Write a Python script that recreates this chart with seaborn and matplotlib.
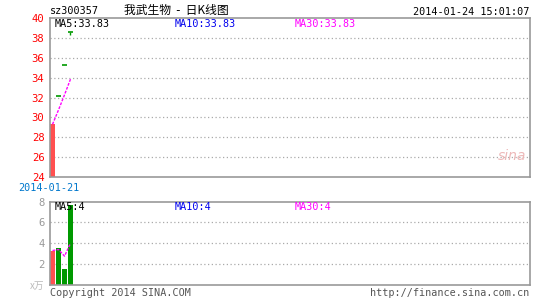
import matplotlib
matplotlib.use("Agg")
import matplotlib.pyplot as plt
import seaborn as sns
import numpy as np
import pandas as pd

# ---- data ----
dates = ["2014-01-21", "2014-01-22", "2014-01-23", "2014-01-24"]
opens = [22.0, 32.2, 35.3, 38.6]
closes = [29.3, 32.2, 35.3, 38.6]
highs = [29.3, 32.2, 35.3, 38.6]
lows = [22.0, 32.2, 35.3, 38.3]
volumes = [3.3, 3.5, 1.5, 7.7]
price_ticks = [24, 26, 28, 30, 32, 34, 36, 38, 40]
vol_ticks = [2, 4, 6, 8]

sns.set_style("white")
plt.rcParams['font.family'] = ['DejaVu Sans Mono', 'Noto Sans CJK SC']

RED = "#FF5050"
GREEN = "#009900"
GRAY = "#999999"
BLUE = "#0000EE"
MAG = "#FF00FF"
FS = 7.3

fig = plt.figure(figsize=(5.45, 3.0), dpi=100)
L = 50 / 545
W = 479.5 / 545
ax = fig.add_axes([L, 1 - 177 / 300, W, (177 - 18) / 300])
axv = fig.add_axes([L, 1 - 285 / 300, W, (285 - 201.5) / 300])

n = len(dates)
x = np.arange(n)
hw = 0.42
df = pd.DataFrame({"x": x, "close": closes, "vol": volumes})
df["ma5"] = df["close"].rolling(5, min_periods=1).mean()
df["vma5"] = df["vol"].rolling(5, min_periods=1).mean()

for a in (ax, axv):
    a.set_xlim(-0.42, 79.58)
    for s in a.spines.values():
        s.set_color(GRAY)
        s.set_linewidth(1.2)
    a.set_xticks([])
    a.tick_params(axis="y", length=0, pad=4, labelsize=FS + 0.3)

# main panel
ax.set_ylim(24, 40)
ax.set_yticks(price_ticks)
ax.set_yticklabels([str(t) for t in price_ticks], color="#FF0000")
for t in price_ticks[1:-1]:
    ax.axhline(t, color="#AAAAAA", lw=0.9, ls=(0, (1, 2)), zorder=0)

for i in range(n):
    o, c, h, l = opens[i], closes[i], highs[i], lows[i]
    if c > o:
        ax.bar(x[i], c - o, bottom=o, width=2 * hw, color=RED, lw=0, zorder=2)
        ax.vlines(x[i], l, h, color=RED, lw=1, zorder=2)
    else:
        ax.vlines(x[i], l, h, color=GREEN, lw=1, zorder=2)
        ax.hlines(c, x[i] - hw, x[i] + hw, color=GREEN, lw=1.2, zorder=2)

sns.lineplot(data=df, x="x", y="ma5", ax=ax, color=MAG, lw=1, ls=(0, (2, 1)), zorder=3)
ax.set_xlabel("")
ax.set_ylabel("")

ax.text(0.01, 0.995, "MA5:33.83", transform=ax.transAxes, ha="left", va="top", fontsize=FS, color="black")
ax.text(0.26, 0.995, "MA10:33.83", transform=ax.transAxes, ha="left", va="top", fontsize=FS, color=BLUE)
ax.text(0.51, 0.995, "MA30:33.83", transform=ax.transAxes, ha="left", va="top", fontsize=FS, color=MAG)
ax.text(0.993, 0.13, "sina", transform=ax.transAxes, ha="right", va="center", fontsize=10,
        color="#EDB8B8", style="italic", family="DejaVu Sans")

# volume panel
axv.set_ylim(0, 8)
axv.set_yticks(vol_ticks)
axv.set_yticklabels([str(t) for t in vol_ticks], color=GRAY)
for t in vol_ticks[:-1]:
    axv.axhline(t, color="#AAAAAA", lw=0.9, ls=(0, (1, 2)), zorder=0)
vcolors = [RED if closes[i] > opens[i] else GREEN for i in range(n)]
axv.bar(x, volumes, width=2 * hw, color=vcolors, lw=0, zorder=2)
sns.lineplot(data=df, x="x", y="vma5", ax=axv, color=MAG, lw=1, ls=(0, (2, 1)), zorder=3)
axv.set_xlabel("")
axv.set_ylabel("")
axv.text(0.01, 0.99, "MA5:4", transform=axv.transAxes, ha="left", va="top", fontsize=FS, color="black")
axv.text(0.26, 0.99, "MA10:4", transform=axv.transAxes, ha="left", va="top", fontsize=FS, color=BLUE)
axv.text(0.51, 0.99, "MA30:4", transform=axv.transAxes, ha="left", va="top", fontsize=FS, color=MAG)

# figure texts
fig.text(50 / 545, 1 - 11 / 300, "sz300357", ha="left", va="center", fontsize=FS, color="black")
fig.text(176 / 545, 1 - 10 / 300, "我武生物  -  日K线图", ha="center", va="center", fontsize=8.5,
         color="black", family=["Noto Sans CJK SC", "DejaVu Sans"])
fig.text(529 / 545, 1 - 12 / 300, "2014-01-24 15:01:07", ha="right", va="center", fontsize=FS, color="black")
fig.text(49 / 545, 1 - 188 / 300, dates[0], ha="center", va="center", fontsize=FS, color="#0077CC")
fig.text(44 / 545, 1 - 286 / 300, "x万", ha="right", va="center", fontsize=7, color="#BBBBBB",
         family=["Noto Sans CJK SC", "DejaVu Sans"])
fig.text(50 / 545, 1 - 293 / 300, "Copyright 2014 SINA.COM", ha="left", va="center", fontsize=FS, color="#555555")
fig.text(529 / 545, 1 - 293 / 300, "http://finance.sina.com.cn", ha="right", va="center", fontsize=FS, color="#555555")

fig.savefig("out.png", dpi=100)
